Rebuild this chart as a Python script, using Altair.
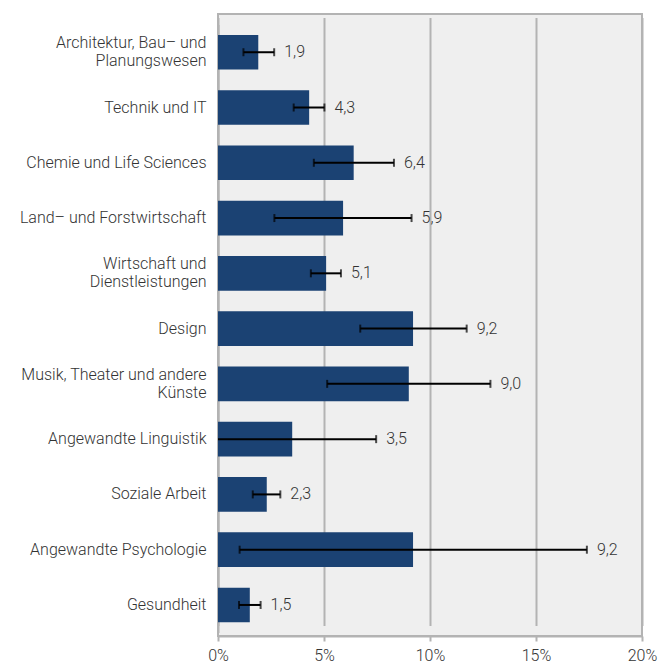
import altair as alt
import pandas as pd

# Fachbereiche (top to bottom), line breaks mark wrapped axis labels
categories = [
    "Architektur, Bau– und\nPlanungswesen",
    "Technik und IT",
    "Chemie und Life Sciences",
    "Land– und Forstwirtschaft",
    "Wirtschaft und\nDienstleistungen",
    "Design",
    "Musik, Theater und andere\nKünste",
    "Angewandte Linguistik",
    "Soziale Arbeit",
    "Angewandte Psychologie",
    "Gesundheit",
]
values = [1.9, 4.3, 6.4, 5.9, 5.1, 9.2, 9.0, 3.5, 2.3, 9.2, 1.5]
lower = [1.2, 3.57, 4.52, 2.66, 4.38, 6.71, 5.15, -0.46, 1.64, 1.02, 0.99]
upper = [2.65, 5.02, 8.30, 9.13, 5.80, 11.73, 12.85, 7.46, 2.94, 17.4, 2.01]
x_ticks = [0, 5, 10, 15, 20]

df = pd.DataFrame({
    "cat": categories,
    "value": values,
    "lo": lower,
    "hi": upper,
})
df["label"] = df["value"].map(lambda v: f"{v:.1f}".replace(".", ","))

FONT = "Roboto"
WEIGHT = 300
FS = 16
TXT = "#333333"
GRID = "#b3b3b3"
BAR = "#1b4273"

y_enc = alt.Y(
    "cat:N",
    sort=categories,
    title=None,
    scale=alt.Scale(range=[10.6, 618.6], paddingInner=0.373, paddingOuter=0.1865),
    axis=alt.Axis(
        labelExpr="split(datum.label, '\\n')",
        labelLineHeight=18,
        labelFont=FONT,
        labelFontSize=FS,
        labelFontWeight=WEIGHT,
        labelColor=TXT,
        labelPadding=12,
        ticks=False,
        domainColor=GRID,
        domainWidth=2,
        labelLimit=300,
        # two-line labels: lift the block so it sits centred on its bar
        labelOffset={
            "condition": {"test": "indexof(datum.label, '\\n') >= 0", "value": -9},
            "value": 0,
        },
    ),
)

x_scale = alt.Scale(domain=[0, 20], nice=False, zero=True)
x_axis = alt.Axis(
    values=x_ticks,
    labelExpr="datum.value + '%'",
    labelFont=FONT,
    labelFontSize=FS,
    labelFontWeight=WEIGHT,
    labelColor=TXT,
    labelPadding=6,
    labelFlush=False,
    tickColor=GRID,
    tickWidth=2,
    tickSize=5,
    domainColor=GRID,
    domainWidth=2,
    grid=True,
    gridColor=GRID,
    gridWidth=2,
)

base = alt.Chart(df)

bars = base.mark_bar(color=BAR).encode(
    x=alt.X("value:Q", scale=x_scale, axis=x_axis, title=None),
    y=y_enc,
)

err = base.mark_rule(color="black", strokeWidth=2, clip=True).encode(
    x=alt.X("lo:Q", scale=x_scale),
    x2="hi:Q",
    y=alt.Y("cat:N", sort=categories),
)

cap_lo = base.mark_tick(color="black", thickness=2, size=8, clip=True).encode(
    x=alt.X("lo:Q", scale=x_scale),
    y=alt.Y("cat:N", sort=categories),
)
cap_hi = base.mark_tick(color="black", thickness=2, size=8, clip=True).encode(
    x=alt.X("hi:Q", scale=x_scale),
    y=alt.Y("cat:N", sort=categories),
)

labels = base.mark_text(
    align="left", baseline="middle", dx=10, font=FONT, fontSize=FS,
    fontWeight=WEIGHT, color=TXT,
).encode(
    x=alt.X("hi:Q", scale=x_scale),
    y=alt.Y("cat:N", sort=categories),
    text="label:N",
)

chart = (
    alt.layer(bars, err, cap_lo, cap_hi, labels)
    .properties(
        width=424,
        height=622,
        background="white",
        padding={"left": 218, "top": 14, "right": 30, "bottom": 28},
        autosize=alt.AutoSizeParams(type="none"),
    )
    .configure_view(fill="#efefef", stroke=GRID, strokeWidth=2)
)

chart.save("out.html", embed_options={"renderer": "svg", "actions": False})
